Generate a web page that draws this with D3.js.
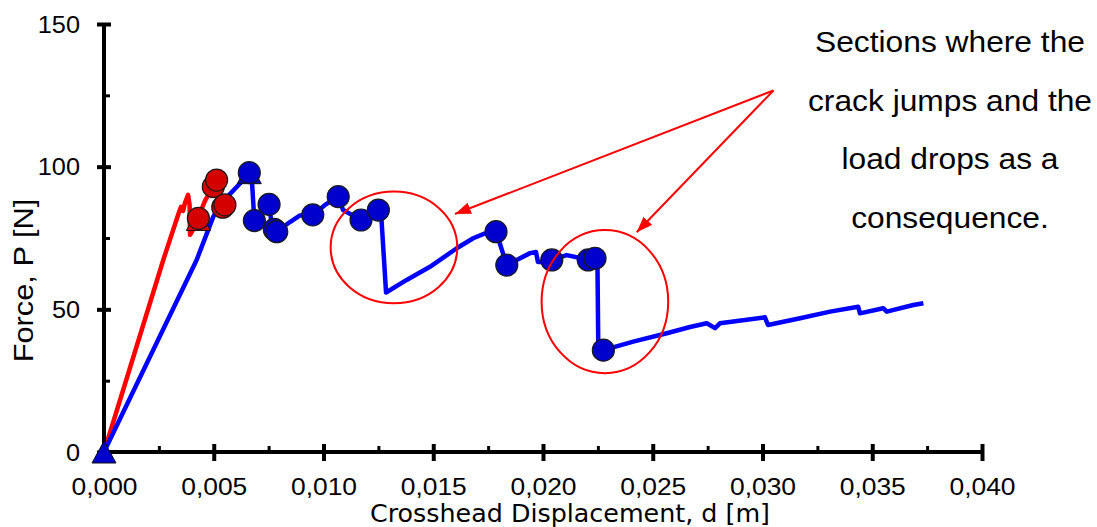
<!DOCTYPE html>
<html>
<head>
<meta charset="utf-8">
<script src="https://cdn.jsdelivr.net/npm/d3@7"></script>
<style>
  html, body { margin: 0; padding: 0; background: #ffffff; }
  svg { display: block; }
</style>
</head>
<body>
<svg id="chart" width="1097" height="527"></svg>
<script>
// ---- axis ticks ----
const xMajorTicks = [0, 0.005, 0.010, 0.015, 0.020, 0.025, 0.030, 0.035, 0.040];
const xTickLabels = ["0,000", "0,005", "0,010", "0,015", "0,020", "0,025", "0,030", "0,035", "0,040"];
const xMinorTicks = [0.0025, 0.0075, 0.0125, 0.0175, 0.0225, 0.0275, 0.0325, 0.0375];
const yMajorTicks = [0, 50, 100, 150];
const yTickLabels = ["0", "50", "100", "150"];
const yMinorTicks = [25, 75, 125];

// ---- red test curve: displacement [m] and force [N] ----
const redDisp  = [0, 0.0027, 0.00342, 0.00351, 0.0036, 0.00369, 0.00383, 0.0039, 0.00392,
                  0.0041, 0.00428, 0.0046, 0.00492, 0.00515, 0.00538, 0.00551];
const redForce = [0, 67.3, 84.1, 85.9, 84.5, 87.3, 90.1, 86.6, 76.1,
                  78.5, 82.0, 88.0, 92.5, 95.3, 88.3, 86.6];

// ---- blue test curve ----
const blueDisp  = [0, 0.00422, 0.00498, 0.00536, 0.00627, 0.00662, 0.00672, 0.00685,
                   0.00752, 0.00766, 0.00787, 0.00847, 0.00893, 0.00951, 0.01007, 0.01067,
                   0.01089, 0.01171, 0.0125, 0.01262, 0.01285, 0.01379, 0.01485, 0.01607,
                   0.01682, 0.01736, 0.01786, 0.01835, 0.0188, 0.01941, 0.01968, 0.01977,
                   0.02009, 0.0204, 0.02108, 0.02169, 0.02206, 0.02237, 0.02248, 0.02252,
                   0.02275, 0.02411, 0.02564, 0.0267, 0.02746, 0.02784, 0.02806, 0.03011,
                   0.03025, 0.03171, 0.03308, 0.03436, 0.03444, 0.0355, 0.03566, 0.03687, 0.03733];
const blueForce = [0, 67.3, 82.5, 87.3, 94.7, 97.9, 97.4, 81.1,
                   86.8, 78.5, 77.2, 80.6, 82.9, 83.1, 86.6, 89.5,
                   84.8, 81.3, 84.8, 84.2, 55.9, 60.3, 64.9, 71.4,
                   74.9, 76.6, 77.2, 65.5, 67.3, 69.7, 70.1, 66.6,
                   66.6, 67.3, 69.0, 68.0, 67.3, 67.9, 66.8, 35.7,
                   35.7, 38.7, 41.6, 43.8, 45.1, 43.4, 45.1, 47.2,
                   44.5, 46.9, 49.2, 50.9, 48.6, 50.4, 49.2, 51.5, 52.1];

// ---- crack-jump markers ----
const redCircleDisp  = [0.0043, 0.00498, 0.00513, 0.00541, 0.00551];
const redCircleForce = [81.9, 93.0, 95.3, 85.8, 86.6];
const redTriangleDisp  = [0.0043];
const redTriangleForce = [81.5];

const blueCircleDisp  = [0.00662, 0.00685, 0.00752, 0.00776, 0.00787, 0.00951, 0.01067,
                         0.01171, 0.0125, 0.01786, 0.01835, 0.0204, 0.02206, 0.02237, 0.02275];
const blueCircleForce = [97.9, 81.1, 86.8, 78.0, 77.2, 83.1, 89.5,
                         81.3, 84.8, 77.2, 65.5, 67.3, 67.3, 67.9, 35.7];
const blueTriangleDisp  = [0, 0.00662];
const blueTriangleForce = [0, 97.9];

const annotationLines = ["Sections where the", "crack jumps and the", "load drops as a", "consequence."];

// ---- layout ----
const svg = d3.select("#chart");
const x = d3.scaleLinear().domain([0, 0.04]).range([104, 982]);
const y = d3.scaleLinear().domain([0, 150]).range([452, 24]);
const AXIS_W = 4;
const TXT_STRETCH = 1.1;

const zip = (xs, ys) => xs.map((d, i) => [d, ys[i]]);

// ---- curves ----
const line = d3.line().x(d => x(d[0])).y(d => y(d[1]));

svg.append("path")
  .datum(zip(redDisp, redForce))
  .attr("d", line)
  .attr("fill", "none")
  .attr("stroke", "#ff0000")
  .attr("stroke-width", 4.5)
  .attr("stroke-linejoin", "round");

svg.append("path")
  .datum(zip(blueDisp, blueForce))
  .attr("d", line)
  .attr("fill", "none")
  .attr("stroke", "#0000ff")
  .attr("stroke-width", 4.5)
  .attr("stroke-linejoin", "round");

// triangles are centred on their bounding box
const triPath = (s, h) => `M0,${-h / 2}L${s / 2},${h / 2}L${-s / 2},${h / 2}Z`;

function drawTriangles(xs, ys, fill) {
  svg.append("g").selectAll("path")
    .data(zip(xs, ys))
    .join("path")
    .attr("transform", d => `translate(${x(d[0])},${y(d[1])})`)
    .attr("d", triPath(24, 22))
    .attr("fill", fill)
    .attr("stroke", "#111")
    .attr("stroke-width", 1);
}
function drawCircles(xs, ys, fill) {
  svg.append("g").selectAll("circle")
    .data(zip(xs, ys))
    .join("circle")
    .attr("cx", d => x(d[0]))
    .attr("cy", d => y(d[1]))
    .attr("r", 11)
    .attr("fill", fill)
    .attr("stroke", "#1a1a1a")
    .attr("stroke-width", 1.2);
}

// ---- axes ----
const axisStyle = g => {
  g.select(".domain").attr("stroke", "#000").attr("stroke-width", AXIS_W);
  g.selectAll(".tick line").attr("stroke", "#000");
};

// x axis: major ticks cross the line, minor ticks point into the plot
const xAxisG = svg.append("g").attr("transform", `translate(0,${y(0)})`);
xAxisG.call(d3.axisBottom(x).tickValues(xMajorTicks)
    .tickFormat((d, i) => xTickLabels[i]).tickSizeOuter(0))
  .call(axisStyle);
xAxisG.selectAll(".tick line").attr("y1", -8).attr("y2", 9).attr("stroke-width", 4);
xAxisG.selectAll(".tick text")
  .attr("y", null).attr("dy", null)
  .attr("transform", `translate(0,42.5) scale(${TXT_STRETCH},1)`)
  .attr("font-family", "'Liberation Sans', Arial, sans-serif")
  .attr("font-size", 24)
  .attr("fill", "#000");
xAxisG.select(".domain").attr("d", `M${x(0)},0H${x(0.04)}`);

const xMinorG = svg.append("g").attr("transform", `translate(0,${y(0)})`);
xMinorG.call(d3.axisBottom(x).tickValues(xMinorTicks).tickFormat("").tickSize(-6).tickSizeOuter(0));
xMinorG.select(".domain").remove();
xMinorG.selectAll(".tick line").attr("stroke", "#000").attr("stroke-width", 3);

// y axis
const yAxisG = svg.append("g").attr("transform", `translate(${x(0)},0)`);
yAxisG.call(d3.axisLeft(y).tickValues(yMajorTicks)
    .tickFormat((d, i) => yTickLabels[i]).tickSizeOuter(0))
  .call(axisStyle);
yAxisG.selectAll(".tick line").attr("x1", -7).attr("x2", 7).attr("stroke-width", 4);
yAxisG.selectAll(".tick text")
  .attr("x", null).attr("dy", null)
  .attr("transform", `translate(-24,8) scale(${TXT_STRETCH},1)`)
  .attr("text-anchor", "end")
  .attr("font-family", "'Liberation Sans', Arial, sans-serif")
  .attr("font-size", 23)
  .attr("fill", "#000");
yAxisG.select(".domain").attr("d", `M0,${y(0) + 2}V${y(150)}`);

const yMinorG = svg.append("g").attr("transform", `translate(${x(0)},0)`);
yMinorG.call(d3.axisLeft(y).tickValues(yMinorTicks).tickFormat("").tickSize(-6).tickSizeOuter(0));
yMinorG.select(".domain").remove();
yMinorG.selectAll(".tick line").attr("stroke", "#000").attr("stroke-width", 3);

// markers sit on top of curves and axes
drawTriangles(redTriangleDisp, redTriangleForce, "#dd0000");
drawCircles(redCircleDisp, redCircleForce, "#d40000");
drawTriangles(blueTriangleDisp, blueTriangleForce, "#0000cc");
drawCircles(blueCircleDisp, blueCircleForce, "#0000cc");

// ---- axis titles ----
svg.append("text")
  .attr("transform", `translate(33,280.5) rotate(-90) scale(${TXT_STRETCH},1)`)
  .attr("text-anchor", "middle")
  .attr("font-family", "'Liberation Sans', Arial, sans-serif")
  .attr("font-size", 28)
  .attr("fill", "#000")
  .text("Force, P [N]");

svg.append("text")
  .attr("x", 570)
  .attr("y", 522)
  .attr("text-anchor", "middle")
  .attr("font-family", "'DejaVu Sans', Verdana, sans-serif")
  .attr("font-size", 24)
  .attr("textLength", 400)
  .attr("lengthAdjust", "spacingAndGlyphs")
  .attr("fill", "#000")
  .text("Crosshead Displacement, d [m]");

// ---- annotation: ellipses around the load drops and arrows ----
const RED = "#ff0000";
const ellipses = [
  { cx: 0.01321, cy: 71.7, rx: 0.002884, ry: 19.56 },
  { cx: 0.02282, cy: 52.7, rx: 0.002884, ry: 25.06 }
];
svg.append("g").selectAll("ellipse")
  .data(ellipses)
  .join("ellipse")
  .attr("cx", d => x(d.cx))
  .attr("cy", d => y(d.cy))
  .attr("rx", d => x(d.rx) - x(0))
  .attr("ry", d => y(0) - y(d.ry))
  .attr("fill", "none")
  .attr("stroke", RED)
  .attr("stroke-width", 2);

svg.append("defs").append("marker")
  .attr("id", "arrowHead")
  .attr("viewBox", "0 0 16 12")
  .attr("refX", 16).attr("refY", 6)
  .attr("markerWidth", 16).attr("markerHeight", 12)
  .attr("markerUnits", "userSpaceOnUse")
  .attr("orient", "auto")
  .append("path")
  .attr("d", "M0,0L16,6L0,12Z")
  .attr("fill", RED);

const arrowFrom = [0.0305, 126.7];
const arrowTips = [[0.01599, 83.4], [0.02427, 77.0]];
svg.append("g").selectAll("line")
  .data(arrowTips)
  .join("line")
  .attr("x1", x(arrowFrom[0])).attr("y1", y(arrowFrom[1]))
  .attr("x2", d => x(d[0])).attr("y2", d => y(d[1]))
  .attr("stroke", RED)
  .attr("stroke-width", 2)
  .attr("marker-end", "url(#arrowHead)");

// ---- annotation text ----
const noteG = svg.append("g").attr("transform", `translate(950,0) scale(1.095,1)`);
noteG.selectAll("text")
  .data(annotationLines)
  .join("text")
  .attr("x", 0)
  .attr("y", (d, i) => 52 + i * 58.7)
  .attr("text-anchor", "middle")
  .attr("font-family", "'Liberation Sans', Arial, sans-serif")
  .attr("font-size", 29)
  .attr("fill", "#000")
  .text(d => d);
</script>
</body>
</html>
